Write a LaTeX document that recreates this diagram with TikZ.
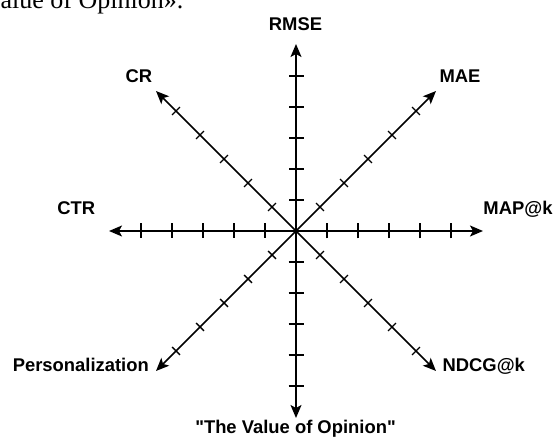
\documentclass[tikz,border=0pt]{standalone}
\usepackage{fontspec}
\newfontfamily\labelfont{Liberation Sans}
\newfontfamily\bodyserif{Liberation Serif}
\usepackage{tikz}
\usetikzlibrary{arrows.meta}

\tikzstyle{axis} = [draw, line width=1.6pt, -{Stealth[length=13pt, width=11pt, inset=3pt]}]
\tikzstyle{tick} = [draw, line width=1.4pt]
\tikzstyle{metric} = [inner sep=0pt, anchor=base, font=\labelfont\bfseries\fontsize{18.4}{22}\selectfont]
\tikzstyle{bodytext} = [inner sep=0pt, anchor=base east, font=\bodyserif\fontsize{26}{30}\selectfont]

\begin{document}
\begin{tikzpicture}[x=1pt, y=1pt]
\clip (0,0) rectangle (554,438);

% running text above the chart
\node[bodytext] (caption) at (183.5,429) {«The Value of Opinion».};

% centre and axis ends ========================
\coordinate (O) at (296,207);
\coordinate (rmse-end) at (296,394);
\coordinate (vo-end) at (296,20);
\coordinate (ctr-end) at (109,207);
\coordinate (mapk-end) at (483,207);
\coordinate (cr-end) at (156,347);
\coordinate (mae-end) at (436,347);
\coordinate (pers-end) at (156,67);
\coordinate (ndcgk-end) at (436,67);

% axes
\path[axis] (O) -- (rmse-end);
\path[axis] (O) -- (vo-end);
\path[axis] (O) -- (ctr-end);
\path[axis] (O) -- (mapk-end);
\path[axis] (O) -- (cr-end);
\path[axis] (O) -- (mae-end);
\path[axis] (O) -- (pers-end);
\path[axis] (O) -- (ndcgk-end);
\fill (O) circle (2pt);

% ticks
\foreach \ang in {0,90,180,270}
  \foreach \k in {1,...,5}
    \path[tick, shift={(O)}, rotate=\ang] (31*\k,-7.5) -- (31*\k,7.5);
\foreach \ang in {45,135,225,315}
  \foreach \k in {1,...,5}
    \path[tick, shift={(O)}, rotate=\ang] (33.94*\k,-5.5) -- (33.94*\k,5.5);

% metric names ================================
\node[metric] (rmse) at (295.5,407) {RMSE};
\node[metric] (cr) at (139,355.5) {CR};
\node[metric] (mae) at (460,355.5) {MAE};
\node[metric] (ctr) at (76.2,223) {CTR};
\node[metric] (mapk) at (518,223) {MAP@k};
\node[metric] (pers) at (80.8,66) {Personalization};
\node[metric] (ndcgk) at (483.8,66) {NDCG@k};
\node[metric] (vo) at (295.5,4) {"The Value of Opinion"};

\end{tikzpicture}
\end{document}
